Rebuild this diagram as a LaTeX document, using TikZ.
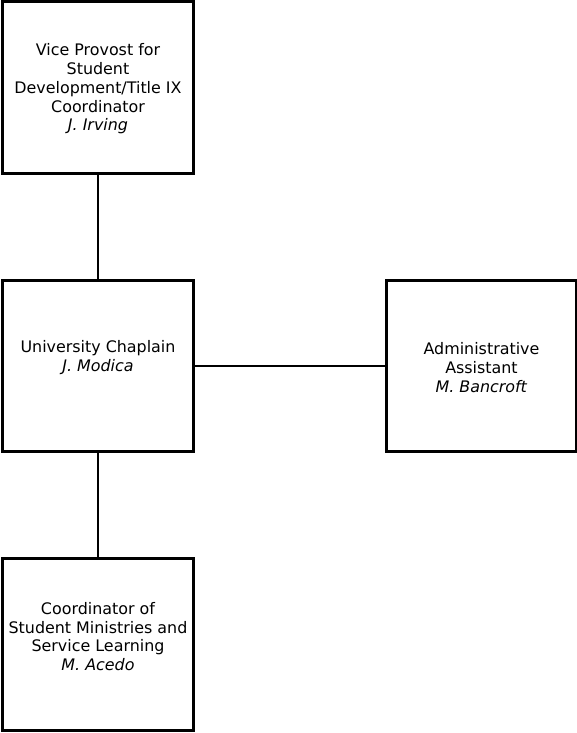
\documentclass[tikz,border=0pt]{standalone}
\usepackage{fontspec}
\setmainfont{DejaVu Sans}
\begin{document}
\begin{tikzpicture}[x=1pt,y=-1pt,
  orgbox/.style={draw=black,line width=3.2pt,fill=white,inner sep=0pt},
  conn/.style={draw=black,line width=2pt},
  txt/.style={align=center,inner sep=0pt,font=\fontsize{15.9}{18.7}\selectfont}]
\useasboundingbox[fill=white] (0,0) rectangle (577,733);
% boxes
\node[orgbox,minimum width=191pt,minimum height=172pt] (vp) at (98,87.5) {};
\node[orgbox,minimum width=191pt,minimum height=171pt] (ch) at (98,366) {};
\node[orgbox,minimum width=190pt,minimum height=171pt] (aa) at (481.5,366) {};
\node[orgbox,minimum width=191pt,minimum height=172pt] (co) at (98,644.5) {};
% connectors
\draw[conn] (vp.south) -- (ch.north);
\draw[conn] (ch.east) -- (aa.west);
\draw[conn] (ch.south) -- (co.north);
% texts
\node[txt] (vpt) at (98,89) {Vice Provost for\\Student\\Development/Title IX\\Coordinator\\\textit{J. Irving}};
\node[txt] (cht) at (98,357.5) {University Chaplain\\\textit{J. Modica}};
\node[txt] (aat) at (481.5,367.5) {Administrative\\Assistant\\\textit{M. Bancroft}};
\node[txt] (cot) at (98,636.5) {Coordinator of\\Student Ministries and\\Service Learning\\\textit{M. Acedo}};
\end{tikzpicture}
\end{document}
